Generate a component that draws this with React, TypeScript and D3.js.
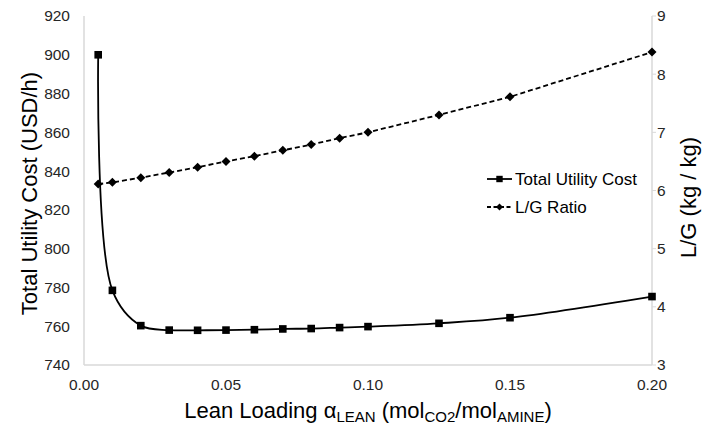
import React from "react";
import * as d3 from "d3";

const loading = [0.005, 0.01, 0.02, 0.03, 0.04, 0.05, 0.06, 0.07, 0.08, 0.09, 0.1, 0.125, 0.15, 0.2];
const utilityCost = [900, 778.5, 760.3, 758.0, 757.9, 758.0, 758.2, 758.6, 758.8, 759.3, 759.8, 761.5, 764.4, 775.3];
const lgRatio = [6.11, 6.14, 6.22, 6.31, 6.4, 6.5, 6.59, 6.69, 6.79, 6.9, 7.0, 7.3, 7.61, 8.38];
const xTicks = [0, 0.05, 0.1, 0.15, 0.2];
const yLeftTicks = [740, 760, 780, 800, 820, 840, 860, 880, 900, 920];
const yRightTicks = [3, 4, 5, 6, 7, 8, 9];

const W = 702;
const H = 428;
const m = { left: 84, right: 50, top: 16, bottom: 63 };
const FONT = "'Liberation Sans', Arial, sans-serif";

export default function App() {
  const x = d3.scaleLinear().domain([0, 0.2]).range([m.left, W - m.right]);
  const yL = d3.scaleLinear().domain([740, 920]).range([H - m.bottom, m.top]);
  const yR = d3.scaleLinear().domain([3, 9]).range([H - m.bottom, m.top]);

  const costLine = d3
    .line<number>()
    .x((_, i) => x(loading[i]))
    .y((d) => yL(d))
    .curve(d3.curveCatmullRom.alpha(0.5));
  const lgLine = d3
    .line<number>()
    .x((_, i) => x(loading[i]))
    .y((d) => yR(d));

  const axisColor = "#d9d9d9";
  const x0 = m.left;
  const x1 = W - m.right;
  const yb = H - m.bottom;

  const diamond = (cx: number, cy: number, r: number) =>
    `M${cx},${cy - r}L${cx + r},${cy}L${cx},${cy + r}L${cx - r},${cy}Z`;

  const legX = 487;
  const legY1 = 179;
  const legY2 = 207;

  return (
    <svg
      width={W}
      height={H}
      style={{ position: "fixed", left: 0, top: 0, background: "#fff" }}
      fontFamily={FONT}
    >
      <rect x={0} y={0} width={W} height={H} fill="#fff" />
      {/* axes */}
      <line x1={x0} x2={x0} y1={m.top} y2={yb} stroke={axisColor} strokeWidth={1.5} />
      <line x1={x0} x2={x1} y1={yb} y2={yb} stroke={axisColor} strokeWidth={1.5} />
      <line x1={x1} x2={x1} y1={m.top} y2={yb} stroke={axisColor} strokeWidth={1.5} />
      {yRightTicks.map((t) => (
        <line key={"rt" + t} x1={x1} x2={x1 + 4} y1={yR(t)} y2={yR(t)} stroke={axisColor} strokeWidth={1} />
      ))}

      {/* tick labels */}
      {yLeftTicks.map((t) => (
        <text key={"yl" + t} x={70} y={yL(t)} dy="0.35em" textAnchor="end" fontSize={15.5} fill="#262626">
          {t}
        </text>
      ))}
      {yRightTicks.map((t) => (
        <text key={"yr" + t} x={657} y={yR(t)} dy="0.35em" textAnchor="start" fontSize={15.5} fill="#262626">
          {t}
        </text>
      ))}
      {xTicks.map((t) => (
        <text key={"xt" + t} x={x(t)} y={390} textAnchor="middle" fontSize={15.5} fill="#262626">
          {t.toFixed(2)}
        </text>
      ))}

      {/* axis titles */}
      <text
        transform={`translate(37,${(m.top + yb) / 2 + 3}) rotate(-90)`}
        textAnchor="middle"
        fontSize={22}
        fill="#000"
      >
        Total Utility Cost (USD/h)
      </text>
      <text
        transform={`translate(696,${(m.top + yb) / 2 + 7}) rotate(-90)`}
        textAnchor="middle"
        fontSize={22}
        fill="#000"
      >
        L/G (kg / kg)
      </text>
      <text x={(x0 + x1) / 2} y={418} textAnchor="middle" fontSize={22} fill="#000">
        <tspan>Lean Loading α</tspan>
        <tspan fontSize={15} dy={4}>LEAN</tspan>
        <tspan dy={-4}> (mol</tspan>
        <tspan fontSize={15} dy={4}>CO2</tspan>
        <tspan dy={-4}>/mol</tspan>
        <tspan fontSize={15} dy={4}>AMINE</tspan>
        <tspan dy={-4}>)</tspan>
      </text>

      {/* L/G dashed line */}
      <path d={lgLine(lgRatio) || ""} fill="none" stroke="#000" strokeWidth={1.8} strokeDasharray="5,3" />
      {lgRatio.map((v, i) => (
        <path key={"d" + i} d={diamond(x(loading[i]), yR(v), 4.5)} fill="#000" />
      ))}

      {/* cost line */}
      <path d={costLine(utilityCost) || ""} fill="none" stroke="#000" strokeWidth={1.8} />
      {utilityCost.map((v, i) => (
        <rect key={"s" + i} x={x(loading[i]) - 3.8} y={yL(v) - 3.8} width={7.6} height={7.6} fill="#000" />
      ))}

      {/* legend */}
      <line x1={legX} x2={legX + 25} y1={legY1} y2={legY1} stroke="#000" strokeWidth={1.8} />
      <rect x={legX + 12.5 - 3.2} y={legY1 - 3.2} width={6.4} height={6.4} fill="#000" />
      <text x={legX + 28} y={legY1} dy="0.35em" fontSize={17} fill="#000">
        Total Utility Cost
      </text>
      <line x1={legX} x2={legX + 25} y1={legY2} y2={legY2} stroke="#000" strokeWidth={1.8} strokeDasharray="4,2.5" />
      <path d={diamond(legX + 12.5, legY2, 3.5)} fill="#000" />
      <text x={legX + 28} y={legY2} dy="0.35em" fontSize={17} fill="#000">
        L/G Ratio
      </text>
    </svg>
  );
}
